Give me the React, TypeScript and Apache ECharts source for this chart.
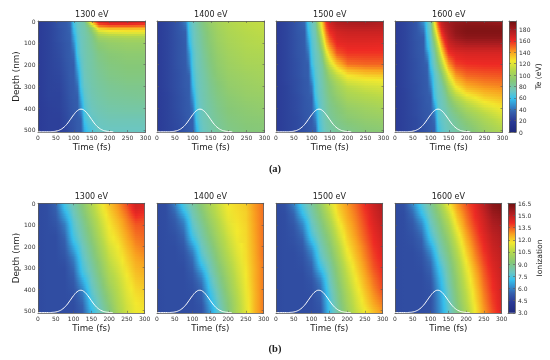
import React, { useEffect, useRef } from "react";
import * as echarts from "echarts";

const energies = ["1300 eV", "1400 eV", "1500 eV", "1600 eV"];
const teTimes = [0, 30, 60, 80, 90, 100, 110, 120, 130, 140, 150, 170, 200, 250, 300];
const ionTimes = [0, 25, 50, 75, 100, 125, 150, 175, 200, 225, 250, 275, 300];
const ionDepths = [0, 25, 50, 75, 100, 125, 150, 175, 200, 225, 250, 275, 300, 325, 350, 375, 400, 425, 450, 475, 500];
const teDepths1300 = [0, 10, 20, 30, 40, 50, 60, 70, 80, 100, 150, 200, 250, 300, 350, 400, 450, 500];
const teDepths1400 = [0, 50, 100, 150, 200, 250, 300, 350, 400, 450, 500];
const teDepths1500 = [0, 50, 100, 150, 200, 225, 250, 275, 300, 325, 350, 400, 450, 500];
const teDepths1600 = [0, 25, 50, 75, 100, 125, 150, 200, 250, 300, 325, 350, 375, 400, 425, 450, 500];

// Each inner list is one time column, top to bottom in depth.
const te1300 = [
  [20, 20, 20, 20, 20, 20, 20, 20, 20, 20, 20, 20, 20, 20, 20, 20, 20, 20],
  [23, 23, 23, 23, 23, 23, 23, 23, 23, 23, 23, 23, 23, 23, 23, 22, 22, 22],
  [30, 30, 30, 30, 29, 29, 29, 29, 29, 28, 27, 26, 25, 24, 23, 23, 22, 22],
  [33, 33, 33, 33, 33, 33, 33, 33, 33, 32, 32, 31, 30, 29, 28, 27, 26, 25],
  [38, 37, 37, 36, 36, 36, 35, 35, 35, 34, 34, 33, 33, 32, 31, 30, 29, 28],
  [63, 62, 62, 60, 57, 57, 54, 51, 51, 46, 38, 34, 34, 33, 33, 32, 31, 30],
  [71, 70, 70, 70, 69, 69, 68, 67, 67, 65, 63, 54, 46, 38, 34, 34, 33, 33],
  [76, 75, 75, 75, 74, 74, 74, 73, 73, 72, 71, 68, 65, 63, 54, 46, 35, 34],
  [82, 79, 78, 78, 77, 77, 77, 76, 76, 76, 75, 74, 73, 71, 68, 65, 62, 54],
  [110, 100, 92, 86, 84, 82, 81, 80, 80, 79, 78, 77, 76, 74, 72, 70, 67, 62],
  [140, 128, 115, 100, 94, 90, 87, 85, 84, 83, 80, 79, 78, 77, 75, 73, 70, 65],
  [168, 160, 150, 138, 125, 116, 108, 102, 98, 92, 87, 84, 82, 80, 78, 76, 73, 71],
  [172, 165, 155, 142, 130, 122, 114, 106, 101, 96, 91, 88, 86, 83, 81, 78, 75, 72],
  [172, 165, 155, 142, 130, 124, 116, 108, 103, 98, 93, 90, 88, 85, 82, 79, 75, 72],
  [168, 162, 153, 141, 130, 124, 116, 108, 103, 98, 93, 90, 88, 85, 83, 79, 75, 72],
];
const te1400 = [
  [20, 20, 20, 20, 20, 20, 20, 20, 20, 20, 20],
  [24, 24, 24, 24, 24, 24, 24, 23, 23, 23, 23],
  [31, 31, 30, 30, 30, 29, 29, 28, 28, 27, 26],
  [43, 35, 34, 34, 33, 33, 33, 32, 32, 31, 31],
  [65, 62, 57, 48, 43, 35, 34, 34, 33, 33, 33],
  [72, 70, 69, 66, 65, 62, 57, 48, 40, 35, 34],
  [78, 76, 75, 73, 72, 70, 69, 66, 64, 62, 54],
  [84, 81, 79, 77, 76, 75, 74, 73, 71, 70, 68],
  [89, 86, 84, 82, 80, 78, 77, 76, 75, 74, 72],
  [93, 90, 88, 86, 84, 82, 80, 79, 78, 76, 75],
  [97, 94, 92, 90, 88, 86, 84, 82, 80, 79, 77],
  [102, 100, 98, 96, 94, 92, 89, 87, 85, 83, 81],
  [107, 105, 103, 101, 99, 97, 95, 92, 90, 88, 86],
  [111, 109, 107, 105, 103, 100, 98, 96, 93, 91, 89],
  [113, 111, 109, 106, 104, 102, 100, 97, 95, 92, 90],
];
const te1500 = [
  [20, 20, 20, 20, 20, 20, 20, 20, 20, 20, 20, 20, 20, 20],
  [24, 24, 24, 24, 24, 24, 24, 24, 23, 23, 23, 23, 23, 23],
  [31, 31, 30, 30, 29, 29, 29, 28, 28, 28, 27, 27, 26, 26],
  [38, 34, 34, 33, 33, 33, 33, 32, 32, 32, 31, 31, 30, 29],
  [63, 57, 48, 40, 34, 34, 34, 33, 33, 33, 33, 32, 32, 31],
  [71, 69, 66, 64, 60, 54, 51, 46, 40, 38, 34, 34, 33, 33],
  [80, 76, 73, 71, 70, 68, 67, 65, 64, 63, 60, 51, 43, 35],
  [112, 98, 85, 78, 75, 74, 73, 72, 71, 71, 70, 67, 65, 62],
  [135, 125, 108, 92, 82, 80, 79, 78, 77, 76, 75, 73, 71, 69],
  [160, 148, 135, 118, 100, 92, 88, 86, 84, 83, 81, 79, 77, 75],
  [170, 160, 148, 132, 115, 105, 98, 93, 90, 89, 87, 84, 81, 78],
  [178, 168, 162, 152, 133, 122, 112, 105, 100, 97, 94, 89, 86, 82],
  [180, 170, 164, 158, 148, 136, 126, 118, 111, 106, 103, 96, 91, 86],
  [181, 170, 164, 158, 150, 140, 131, 122, 116, 111, 107, 100, 95, 90],
  [178, 170, 163, 158, 150, 141, 132, 124, 118, 114, 110, 103, 97, 92],
];
const te1600 = [
  [20, 20, 20, 20, 20, 20, 20, 20, 20, 20, 20, 20, 20, 20, 20, 20, 20],
  [24, 24, 24, 24, 24, 24, 24, 24, 24, 24, 23, 23, 23, 23, 23, 23, 23],
  [31, 31, 31, 31, 30, 30, 30, 29, 29, 28, 28, 28, 27, 27, 27, 26, 26],
  [48, 43, 38, 34, 34, 34, 33, 33, 32, 32, 32, 31, 31, 31, 30, 30, 29],
  [66, 65, 63, 60, 57, 54, 46, 35, 34, 33, 33, 33, 33, 32, 32, 32, 31],
  [80, 77, 74, 72, 70, 69, 65, 62, 51, 43, 38, 34, 34, 34, 33, 33, 33],
  [125, 118, 108, 98, 90, 84, 78, 73, 67, 65, 63, 61, 54, 48, 43, 38, 34],
  [155, 148, 138, 128, 118, 108, 100, 86, 76, 72, 71, 70, 69, 68, 66, 65, 60],
  [172, 168, 160, 152, 143, 134, 124, 105, 88, 78, 76, 74, 73, 72, 71, 70, 67],
  [178, 176, 172, 166, 160, 152, 144, 125, 105, 90, 84, 80, 78, 76, 74, 73, 71],
  [181, 180, 178, 175, 170, 165, 158, 142, 122, 105, 97, 90, 86, 82, 79, 77, 74],
  [184, 186, 186, 183, 176, 170, 164, 156, 142, 126, 116, 106, 98, 92, 87, 83, 79],
  [185, 189, 190, 187, 180, 172, 166, 159, 150, 138, 130, 120, 111, 104, 98, 93, 86],
  [184, 189, 190, 187, 180, 172, 166, 160, 152, 143, 137, 131, 124, 117, 110, 105, 98],
  [182, 188, 190, 187, 180, 172, 166, 160, 153, 145, 140, 135, 130, 125, 120, 115, 107],
];
const ion1300 = [
  [4.8, 4.8, 4.8, 4.8, 4.8, 4.8, 4.8, 4.8, 4.8, 4.8, 4.8, 4.8, 4.8, 4.8, 4.8, 4.8, 4.8, 4.8, 4.8, 4.8, 4.8],
  [4.9, 4.9, 4.9, 4.9, 4.9, 4.9, 4.9, 4.9, 4.9, 4.9, 4.9, 4.9, 4.9, 4.9, 4.9, 4.9, 4.9, 4.9, 4.9, 4.9, 4.9],
  [5.5, 5.4, 5.3, 5.2, 5.1, 5.0, 4.9, 4.9, 4.9, 4.9, 4.9, 4.9, 4.9, 4.9, 4.9, 4.9, 4.9, 4.9, 4.9, 4.9, 4.9],
  [7.3, 7.05, 6.65, 6.3, 5.9, 5.75, 5.55, 5.4, 5.3, 5.2, 5.1, 5.0, 4.9, 4.9, 4.9, 4.9, 4.9, 4.9, 4.9, 4.9, 4.9],
  [8.3, 8.14, 8.0, 7.8, 7.65, 7.5, 7.35, 7.1, 6.7, 6.4, 6.0, 5.8, 5.6, 5.45, 5.3, 5.2, 5.1, 5.0, 4.95, 4.9, 4.9],
  [9.3, 9.14, 9.0, 8.8, 8.65, 8.5, 8.35, 8.2, 8.0, 7.85, 7.7, 7.55, 7.4, 7.2, 6.8, 6.45, 6.1, 5.85, 5.65, 5.45, 5.35],
  [10.4, 10.2, 10.05, 9.85, 9.7, 9.5, 9.35, 9.2, 9.0, 8.85, 8.7, 8.55, 8.4, 8.2, 8.05, 7.9, 7.75, 7.6, 7.4, 7.25, 6.95],
  [11.4, 11.25, 11.1, 10.9, 10.75, 10.6, 10.45, 10.25, 10.1, 9.9, 9.75, 9.55, 9.4, 9.25, 9.05, 8.9, 8.75, 8.6, 8.4, 8.25, 8.1],
  [12.2, 12.1, 11.95, 11.8, 11.7, 11.55, 11.45, 11.3, 11.1, 10.95, 10.8, 10.65, 10.5, 10.3, 10.15, 10.0, 9.8, 9.6, 9.45, 9.25, 9.1],
  [12.9, 12.75, 12.6, 12.4, 12.25, 12.1, 11.95, 11.8, 11.65, 11.5, 11.4, 11.25, 11.1, 10.95, 10.8, 10.7, 10.6, 10.5, 10.4, 10.3, 10.2],
  [13.7, 13.5, 13.3, 13.1, 12.95, 12.8, 12.65, 12.5, 12.35, 12.2, 12.05, 11.95, 11.8, 11.7, 11.55, 11.45, 11.35, 11.25, 11.15, 11.05, 11.0],
  [14.7, 14.5, 14.2, 13.85, 13.55, 13.4, 13.25, 13.1, 12.95, 12.8, 12.65, 12.5, 12.4, 12.25, 12.15, 12.0, 11.9, 11.8, 11.7, 11.6, 11.55],
  [14.5, 14.3, 14.0, 13.75, 13.6, 13.5, 13.4, 13.3, 13.2, 13.05, 12.9, 12.75, 12.6, 12.5, 12.35, 12.25, 12.1, 12.0, 11.9, 11.8, 11.7],
];
const ion1400 = [
  [4.8, 4.8, 4.8, 4.8, 4.8, 4.8, 4.8, 4.8, 4.8, 4.8, 4.8, 4.8, 4.8, 4.8, 4.8, 4.8, 4.8, 4.8, 4.8, 4.8, 4.8],
  [4.9, 4.9, 4.9, 4.9, 4.9, 4.9, 4.9, 4.9, 4.9, 4.9, 4.9, 4.9, 4.9, 4.9, 4.9, 4.9, 4.9, 4.9, 4.9, 4.9, 4.9],
  [6.0, 5.7, 5.5, 5.3, 5.2, 5.1, 5.0, 4.95, 4.9, 4.9, 4.9, 4.9, 4.9, 4.9, 4.9, 4.9, 4.9, 4.9, 4.9, 4.9, 4.9],
  [7.5, 7.2, 6.7, 6.2, 5.9, 5.7, 5.5, 5.35, 5.2, 5.1, 5.0, 4.95, 4.9, 4.9, 4.9, 4.9, 4.9, 4.9, 4.9, 4.9, 4.9],
  [8.5, 8.3, 8.15, 7.95, 7.75, 7.55, 7.3, 6.9, 6.4, 6.0, 5.7, 5.55, 5.4, 5.25, 5.15, 5.05, 5.0, 4.95, 4.9, 4.9, 4.9],
  [9.4, 9.25, 9.05, 8.9, 8.7, 8.5, 8.35, 8.15, 7.95, 7.75, 7.5, 7.25, 6.8, 6.3, 5.95, 5.7, 5.5, 5.35, 5.25, 5.1, 5.05],
  [10.3, 10.15, 10.0, 9.8, 9.65, 9.45, 9.3, 9.1, 8.9, 8.7, 8.5, 8.3, 8.15, 7.95, 7.7, 7.5, 7.3, 7.1, 6.9, 6.6, 6.4],
  [11.0, 10.9, 10.8, 10.65, 10.5, 10.35, 10.2, 10.05, 9.9, 9.7, 9.55, 9.4, 9.2, 9.05, 8.85, 8.7, 8.5, 8.35, 8.2, 8.05, 7.9],
  [11.7, 11.6, 11.5, 11.4, 11.25, 11.15, 11.0, 10.85, 10.75, 10.6, 10.45, 10.3, 10.15, 10.0, 9.85, 9.7, 9.6, 9.45, 9.3, 9.2, 9.1],
  [11.9, 11.85, 11.8, 11.75, 11.7, 11.65, 11.6, 11.5, 11.4, 11.3, 11.2, 11.1, 11.0, 10.9, 10.8, 10.7, 10.6, 10.5, 10.4, 10.3, 10.3],
  [12.1, 12.05, 12.0, 12.0, 11.95, 11.9, 11.9, 11.85, 11.85, 11.8, 11.8, 11.75, 11.7, 11.65, 11.6, 11.55, 11.5, 11.45, 11.4, 11.35, 11.3],
  [12.8, 12.8, 12.75, 12.75, 12.7, 12.7, 12.65, 12.65, 12.6, 12.6, 12.55, 12.55, 12.5, 12.5, 12.5, 12.45, 12.45, 12.4, 12.4, 12.4, 12.4],
  [13.3, 13.3, 13.3, 13.3, 13.3, 13.3, 13.3, 13.3, 13.3, 13.3, 13.3, 13.2, 13.2, 13.2, 13.2, 13.2, 13.2, 13.2, 13.2, 13.2, 13.2],
];
const ion1500 = [
  [4.8, 4.8, 4.8, 4.8, 4.8, 4.8, 4.8, 4.8, 4.8, 4.8, 4.8, 4.8, 4.8, 4.8, 4.8, 4.8, 4.8, 4.8, 4.8, 4.8, 4.8],
  [5.0, 4.95, 4.9, 4.9, 4.9, 4.9, 4.9, 4.9, 4.9, 4.9, 4.9, 4.9, 4.9, 4.9, 4.9, 4.9, 4.9, 4.9, 4.9, 4.9, 4.9],
  [6.0, 5.75, 5.5, 5.35, 5.2, 5.1, 5.05, 5.0, 4.95, 4.9, 4.9, 4.9, 4.9, 4.9, 4.9, 4.9, 4.9, 4.9, 4.9, 4.9, 4.9],
  [7.6, 7.3, 7.0, 6.5, 6.1, 5.85, 5.6, 5.4, 5.25, 5.15, 5.05, 5.0, 4.95, 4.9, 4.9, 4.9, 4.9, 4.9, 4.9, 4.9, 4.9],
  [8.6, 8.4, 8.25, 8.05, 7.85, 7.65, 7.4, 7.0, 6.5, 6.1, 5.85, 5.6, 5.45, 5.3, 5.15, 5.05, 5.0, 4.95, 4.9, 4.9, 4.9],
  [9.7, 9.5, 9.3, 9.1, 8.9, 8.7, 8.5, 8.3, 8.1, 7.9, 7.7, 7.45, 7.1, 6.6, 6.15, 5.85, 5.65, 5.45, 5.3, 5.2, 5.1],
  [11.1, 10.8, 10.55, 10.3, 10.05, 9.8, 9.55, 9.35, 9.15, 8.95, 8.75, 8.55, 8.35, 8.15, 8.0, 7.85, 7.7, 7.55, 7.45, 7.3, 7.2],
  [12.1, 12.0, 11.85, 11.65, 11.4, 11.15, 10.95, 10.7, 10.45, 10.25, 10.05, 9.85, 9.65, 9.5, 9.35, 9.2, 9.05, 8.95, 8.85, 8.7, 8.6],
  [12.8, 12.7, 12.6, 12.5, 12.35, 12.2, 12.05, 11.9, 11.75, 11.55, 11.35, 11.15, 10.95, 10.75, 10.6, 10.45, 10.3, 10.15, 10.05, 9.9, 9.8],
  [13.4, 13.3, 13.2, 13.1, 13.0, 12.9, 12.8, 12.65, 12.5, 12.4, 12.25, 12.1, 11.95, 11.8, 11.65, 11.5, 11.35, 11.2, 11.05, 10.95, 10.8],
  [14.1, 14.0, 13.9, 13.8, 13.7, 13.6, 13.5, 13.4, 13.25, 13.15, 13.05, 12.9, 12.8, 12.65, 12.5, 12.4, 12.25, 12.1, 11.95, 11.8, 11.6],
  [14.8, 14.7, 14.6, 14.5, 14.4, 14.3, 14.2, 14.1, 14.0, 13.9, 13.8, 13.7, 13.6, 13.45, 13.3, 13.2, 13.05, 12.9, 12.75, 12.55, 12.3],
  [15.3, 15.2, 15.1, 15.0, 14.9, 14.8, 14.7, 14.6, 14.5, 14.4, 14.3, 14.2, 14.1, 14.0, 13.9, 13.8, 13.7, 13.5, 13.3, 13.1, 12.9],
];
const ion1600 = [
  [4.8, 4.8, 4.8, 4.8, 4.8, 4.8, 4.8, 4.8, 4.8, 4.8, 4.8, 4.8, 4.8, 4.8, 4.8, 4.8, 4.8, 4.8, 4.8, 4.8, 4.8],
  [5.0, 4.95, 4.9, 4.9, 4.9, 4.9, 4.9, 4.9, 4.9, 4.9, 4.9, 4.9, 4.9, 4.9, 4.9, 4.9, 4.9, 4.9, 4.9, 4.9, 4.9],
  [6.2, 5.85, 5.6, 5.4, 5.25, 5.15, 5.05, 5.0, 4.95, 4.9, 4.9, 4.9, 4.9, 4.9, 4.9, 4.9, 4.9, 4.9, 4.9, 4.9, 4.9],
  [7.6, 7.3, 7.0, 6.5, 6.1, 5.85, 5.6, 5.4, 5.3, 5.15, 5.05, 5.0, 4.95, 4.9, 4.9, 4.9, 4.9, 4.9, 4.9, 4.9, 4.9],
  [8.7, 8.5, 8.3, 8.1, 7.9, 7.65, 7.4, 7.05, 6.6, 6.2, 5.9, 5.65, 5.5, 5.35, 5.2, 5.1, 5.05, 5.0, 5.0, 5.0, 5.0],
  [10.0, 9.7, 9.45, 9.2, 9.0, 8.8, 8.6, 8.4, 8.2, 8.0, 7.75, 7.5, 7.2, 7.0, 6.8, 6.65, 6.5, 6.4, 6.3, 6.25, 6.2],
  [11.6, 11.2, 10.85, 10.55, 10.25, 10.0, 9.75, 9.5, 9.3, 9.1, 8.9, 8.75, 8.6, 8.45, 8.35, 8.25, 8.1, 8.0, 7.9, 7.8, 7.7],
  [12.8, 12.6, 12.35, 12.1, 11.85, 11.55, 11.25, 11.0, 10.75, 10.5, 10.3, 10.1, 9.95, 9.8, 9.65, 9.55, 9.45, 9.35, 9.25, 9.1, 9.0],
  [13.6, 13.45, 13.3, 13.15, 13.0, 12.8, 12.6, 12.4, 12.2, 12.0, 11.8, 11.6, 11.4, 11.2, 11.05, 10.9, 10.75, 10.6, 10.5, 10.35, 10.2],
  [14.3, 14.2, 14.1, 14.0, 13.85, 13.7, 13.55, 13.4, 13.25, 13.1, 12.95, 12.8, 12.6, 12.45, 12.3, 12.2, 12.05, 11.95, 11.85, 11.7, 11.6],
  [15.1, 15.0, 14.85, 14.7, 14.6, 14.5, 14.35, 14.25, 14.1, 14.0, 13.85, 13.75, 13.6, 13.5, 13.4, 13.3, 13.2, 13.1, 13.0, 12.9, 12.8],
  [16.0, 15.85, 15.65, 15.45, 15.3, 15.15, 15.0, 14.9, 14.8, 14.7, 14.6, 14.5, 14.4, 14.3, 14.2, 14.1, 14.05, 13.95, 13.9, 13.8, 13.7],
  [16.2, 16.1, 15.9, 15.7, 15.55, 15.4, 15.3, 15.2, 15.1, 15.0, 14.95, 14.9, 14.85, 14.8, 14.75, 14.7, 14.65, 14.6, 14.55, 14.5, 14.4],
];

const pulseTimes = [0, 30, 40, 50, 60, 70, 80, 90, 100, 110, 120, 130, 140, 150, 160, 170, 180, 190, 200, 210];
const pulseDepths = [509, 509, 508, 506, 501, 491, 475, 453, 430, 412, 405, 412, 430, 453, 475, 491, 501, 506, 508, 509];

const teTicks = { min: 0, max: 195, interval: 20 };
const ionTicks = { min: 3, max: 16.5, interval: 1.5 };

const colormap: [number, number[]][] = [
  [0, [31, 42, 124]],
  [0.1, [43, 58, 150]],
  [0.18, [53, 96, 174]],
  [0.3, [53, 192, 238]],
  [0.37, [108, 198, 192]],
  [0.46, [134, 200, 120]],
  [0.56, [183, 217, 74]],
  [0.64, [243, 233, 46]],
  [0.72, [249, 161, 31]],
  [0.82, [238, 42, 36]],
  [0.92, [168, 28, 32]],
  [1, [111, 16, 16]],
];

function colorAt(f: number) {
  const x = Math.max(0, Math.min(1, f));
  for (let i = 1; i < colormap.length; i++) {
    if (x <= colormap[i][0]) {
      const [a, ca] = colormap[i - 1];
      const [b, cb] = colormap[i];
      const u = (x - a) / (b - a);
      const c = ca.map((v, k) => Math.round(v + (cb[k] - v) * u));
      return `rgb(${c[0]},${c[1]},${c[2]})`;
    }
  }
  return "rgb(111,16,16)";
}

// One item per pair of neighbouring depth rows; the last pair runs on to the lower axis end.
function makeBands(depths: number[]) {
  return depths.map((d, j) => [0, 300, d, j === depths.length - 1 ? 510 : depths[j + 1], j]);
}

// Shades a band between two read rows like a smooth pcolormesh, on whole pixel rows.
function bandRenderer(scale: { min: number; max: number }, times: number[], depths: number[], cols: number[][]) {
  const norm = (v: number) => (v - scale.min) / (scale.max - scale.min);
  return (_: any, api: any) => {
    const t0 = api.value(0), t1 = api.value(1), d0 = api.value(2), d1 = api.value(3), j = api.value(4);
    const j1 = Math.min(j + 1, depths.length - 1);
    const a = api.coord([t0, d0]);
    const b = api.coord([t1, d1]);
    const yStart = Math.round(a[1]);
    const yEnd = Math.round(b[1]);
    const children: any[] = [];
    for (let y = yStart; y < yEnd; y += 2) {
      const sh = Math.min(2, yEnd - y);
      const u = Math.max(0, Math.min(1, (y + sh / 2 - a[1]) / (b[1] - a[1])));
      const fs = cols.map((c) => norm(c[j] + (c[j1] - c[j]) * u));
      const stops: any[] = [];
      for (let i = 0; i < times.length - 1; i++) {
        const n = Math.max(1, Math.ceil(Math.abs(fs[i + 1] - fs[i]) / 0.03));
        for (let k = 0; k < n; k++) {
          const p = k / n;
          stops.push({
            offset: (times[i] + (times[i + 1] - times[i]) * p - t0) / (t1 - t0),
            color: colorAt(fs[i] + (fs[i + 1] - fs[i]) * p),
          });
        }
      }
      stops.push({ offset: 1, color: colorAt(fs[fs.length - 1]) });
      children.push({
        type: "rect",
        shape: { x: a[0], y, width: b[0] - a[0], height: sh },
        style: { fill: new echarts.graphic.LinearGradient(0, 0, 1, 0, stops) },
      });
    }
    return { type: "group", children };
  };
}

const FONT = "DejaVu Sans";
const LINE = { show: true, onZero: false, lineStyle: { color: "#5a5a5a", width: 0.8 } };
const TICK = { show: true, inside: true, length: 2, lineStyle: { color: "#5a5a5a", width: 0.6 } };
const LABEL = { fontFamily: FONT, fontSize: 6, color: "#333", margin: 2.5 };

const panelLefts = [38, 157, 276, 395];
const rows = [
  {
    top: 21, height: 111, width: 107.5, cbLeft: 509, cbWidth: 7, scale: teTicks, cbName: "Te (eV)", times: teTimes,
    depths: [teDepths1300, teDepths1400, teDepths1500, teDepths1600], data: [te1300, te1400, te1500, te1600],
    fmt: (v: number) => (v === 195 ? "" : String(v)),
  },
  {
    top: 203.3, height: 109.5, width: 106.7, cbLeft: 508, cbWidth: 7, scale: ionTicks, cbName: "Ionization", times: ionTimes,
    depths: [ionDepths, ionDepths, ionDepths, ionDepths], data: [ion1300, ion1400, ion1500, ion1600],
    fmt: (v: number) => v.toFixed(1),
  },
];

function buildOption() {
  const grid: any[] = [], xAxis: any[] = [], yAxis: any[] = [], series: any[] = [];
  rows.forEach((r) => {
    panelLefts.forEach((left, p) => {
      const g = grid.length;
      const xi = xAxis.length, yi = yAxis.length;
      grid.push({ left, top: r.top, width: r.width, height: r.height, containLabel: false });
      const xBase = { type: "value", gridIndex: g, min: 0, max: 300, interval: 50, z: 5, splitLine: { show: false }, axisLine: LINE, axisTick: TICK };
      const yBase = { type: "value", gridIndex: g, inverse: true, min: 0, max: 510, interval: 100, z: 5, splitLine: { show: false }, axisLine: LINE, axisTick: TICK };
      xAxis.push({
        ...xBase, position: "bottom", axisLabel: LABEL,
        name: "Time (fs)", nameLocation: "middle", nameGap: 10.5,
        nameTextStyle: { fontFamily: FONT, fontSize: 8.6, color: "#222" },
      });
      xAxis.push({
        ...xBase, position: "top", axisLabel: { show: false },
        name: energies[p], nameLocation: "middle", nameGap: 2.5,
        nameTextStyle: { fontFamily: FONT, fontSize: 8, color: "#222" },
      });
      yAxis.push({
        ...yBase, position: "left",
        axisLabel: { ...LABEL, show: p === 0, showMaxLabel: false, formatter: (v: number) => (v === 510 ? "" : String(v)) },
        ...(p === 0 ? { name: "Depth (nm)", nameLocation: "middle", nameGap: 17, nameRotate: 90, nameTextStyle: { fontFamily: FONT, fontSize: 8.8, color: "#222" } } : {}),
      });
      yAxis.push({ ...yBase, position: "right", axisLabel: { show: false } });
      series.push({
        type: "custom", coordinateSystem: "cartesian2d", xAxisIndex: xi, yAxisIndex: yi, z: 2, silent: true,
        encode: { x: [0, 1], y: [2, 3] },
        data: makeBands(r.depths[p]),
        renderItem: bandRenderer(r.scale, r.times, r.depths[p], r.data[p]),
      });
      series.push({
        type: "line", xAxisIndex: xi, yAxisIndex: yi, z: 6, silent: true, showSymbol: false, smooth: true,
        data: pulseTimes.map((t, i) => [t, pulseDepths[i]]),
        lineStyle: { color: "#fff", width: 1 },
      });
    });
    // colour bar
    const g = grid.length;
    const xi = xAxis.length, yi = yAxis.length;
    grid.push({ left: r.cbLeft, top: r.top, width: r.cbWidth, height: r.height, containLabel: false });
    const cbx = { type: "value", gridIndex: g, min: 0, max: 1, z: 5, splitLine: { show: false }, axisLine: LINE, axisTick: { show: false }, axisLabel: { show: false } };
    xAxis.push({ ...cbx, position: "bottom" }, { ...cbx, position: "top" });
    const { min, max, interval } = r.scale;
    yAxis.push({
      type: "value", gridIndex: g, position: "right", min, max, interval, z: 5,
      splitLine: { show: false }, axisLine: LINE, axisTick: TICK,
      axisLabel: { ...LABEL, margin: 3, formatter: r.fmt },
      name: r.cbName, nameLocation: "middle", nameRotate: 90, nameGap: 14,
      nameTextStyle: { fontFamily: FONT, fontSize: 7.6, color: "#222" },
    });
    yAxis.push({
      type: "value", gridIndex: g, position: "left", min, max, interval, z: 5,
      splitLine: { show: false }, axisLine: LINE, axisTick: TICK, axisLabel: { show: false },
    });
    series.push({
      type: "custom", coordinateSystem: "cartesian2d", xAxisIndex: xi, yAxisIndex: yi, z: 2, silent: true,
      encode: { x: 0, y: [1, 2] },
      data: [[0, min, max]],
      renderItem: (_: any, api: any) => {
        const a = api.coord([0, max]);
        const b = api.coord([1, min]);
        return {
          type: "rect",
          shape: { x: a[0], y: a[1], width: b[0] - a[0], height: b[1] - a[1] },
          style: {
            fill: new echarts.graphic.LinearGradient(0, 1, 0, 0, colormap.map(([f]) => ({ offset: f, color: colorAt(f) }))),
          },
        };
      },
    });
  });
  return {
    animation: false,
    backgroundColor: "#fff",
    grid, xAxis, yAxis, series,
    graphic: [
      { type: "text", x: 275, y: 168, style: { text: "(a)", fontFamily: "Liberation Serif", fontSize: 10.5, fontWeight: "bold", fill: "#222", align: "center", verticalAlign: "middle" } },
      { type: "text", x: 275, y: 348, style: { text: "(b)", fontFamily: "Liberation Serif", fontSize: 10.5, fontWeight: "bold", fill: "#222", align: "center", verticalAlign: "middle" } },
    ],
  };
}

export default function App() {
  const ref = useRef<HTMLDivElement>(null);
  useEffect(() => {
    document.body.style.margin = "0";
    const chart = echarts.init(ref.current!, undefined, { renderer: "svg" });
    chart.setOption(buildOption() as any);
    return () => chart.dispose();
  }, []);
  return <div ref={ref} style={{ width: 550, height: 360, filter: "blur(0.45px)" }} />;
}
